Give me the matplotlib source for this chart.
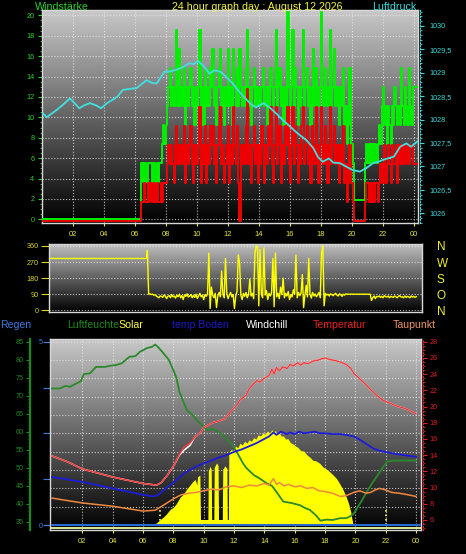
import numpy as np
import matplotlib
matplotlib.use("Agg")
import matplotlib.pyplot as plt
from matplotlib.colors import LinearSegmentedColormap
from matplotlib.ticker import MultipleLocator, FuncFormatter
from matplotlib.transforms import offset_copy

plt.rcParams['font.family'] = ['Liberation Sans', 'DejaVu Sans']

# ---------------- data ----------------
hour_ticks = [2, 4, 6, 8, 10, 12, 14, 16, 18, 20, 22, 24]
hour_labels = ['02', '04', '06', '08', '10', '12', '14', '16', '18', '20', '22', '00']

# wind in knots, 5 minute samples starting 06:24 (calm before)
wind_start = 6.4
KN = 1.852
gust_kn = [3, 2, 3, 3, 2, 3, 3,
           3, 2, 3, 3, 2, 3, 2, 3, 3, 4, 5, 4,
           5, 6, 7, 8, 6, 7, 6, 7, 10, 6, 9, 6,
           7, 6, 8, 5, 7, 6, 7, 8, 6, 7, 5, 7,
           6, 7, 10, 6, 7, 5, 8, 6, 7, 6, 8, 7,
           9, 6, 7, 5, 7, 8, 9, 6, 7, 5, 7, 6,
           9, 6, 7, 5, 9, 7, 6, 8, 6, 9, 7, 6,
           7, 6, 8, 10, 6, 7, 5, 7, 8, 6, 7, 6,
           7, 6, 7, 8, 6, 7, 5, 7, 6, 8, 7, 6,
           7, 10, 6, 7, 8, 6, 7, 5, 7, 6, 11, 7,
           6, 7, 10, 6, 8, 7, 5, 7, 6, 7, 10, 6,
           7, 8, 6, 7, 5, 7, 9, 6, 8, 7, 6, 7,
           11, 7, 6, 8, 7, 6, 7, 10, 6, 7, 9, 6,
           7, 6, 5, 7, 6, 8, 5, 6, 4, 5, 8, 4,
           4, 3, 1, 1, 1, 1, 1, 1, 1, 1, 3, 4,
           3, 4, 3, 4, 3, 4, 4, 3, 4, 5, 4, 6,
           7, 5, 6, 4, 6, 5, 4, 6, 5, 7, 6, 5,
           6, 5, 8, 6, 5, 7, 6, 5, 8, 6, 5, 7]
avg_kn = [1, 1, 2, 1, 1, 2, 1,
          2, 1, 1, 2, 1, 2, 1, 1, 2, 1, 2, 2,
          2, 3, 4, 3, 4, 3, 2, 4, 5, 3, 4, 3,
          4, 3, 5, 2, 4, 3, 4, 5, 3, 2, 4, 3,
          3, 4, 6, 2, 4, 3, 5, 2, 4, 3, 5, 4,
          5, 3, 4, 2, 4, 5, 6, 3, 4, 2, 3, 4,
          5, 2, 4, 3, 6, 4, 3, 5, 2, 0, 4, 3,
          4, 3, 5, 7, 3, 4, 2, 4, 5, 3, 4, 2,
          4, 3, 5, 4, 2, 4, 3, 5, 4, 6, 3, 2,
          4, 6, 3, 4, 5, 2, 4, 3, 5, 4, 6, 3,
          2, 4, 6, 3, 5, 4, 2, 4, 3, 5, 6, 3,
          4, 5, 3, 4, 2, 5, 4, 3, 6, 4, 2, 4,
          6, 4, 3, 5, 4, 2, 4, 6, 3, 4, 5, 3,
          4, 3, 2, 4, 3, 5, 2, 3, 1, 2, 4, 2,
          2, 1, 0, 0, 0, 0, 0, 0, 0, 0, 1, 2,
          2, 1, 2, 1, 2, 1, 2, 2, 1, 2, 3, 2,
          3, 4, 2, 3, 4, 3, 2, 4, 3, 3, 4, 2,
          4, 3, 4, 3, 4, 4, 3, 4, 3, 4, 4, 3]

pressure_h = [0.07, 0.3, 0.6, 0.93, 1.3, 1.8, 2.1, 2.4, 2.7, 3.1, 3.5, 3.8, 4.2, 4.6,
              4.9, 5.2, 5.6, 6.1, 6.4, 6.75, 7.1, 7.4, 7.9, 8.2, 8.65, 9.1, 9.5, 9.8,
              10.05, 10.4, 10.8, 11.1, 11.5, 11.9, 12.3, 12.7, 13.2, 13.5, 13.8, 14.3,
              14.7, 15.1, 15.5, 16.0, 16.5, 17.05, 17.5, 17.8, 18.1, 18.5, 18.8, 19.2,
              19.6, 20.05, 20.5, 20.9, 21.35, 21.7, 22.0, 22.4, 22.7, 23.1, 23.5, 23.8, 24.2]
pressure_hpa = [1028.13, 1028.05, 1028.12, 1028.2, 1028.3, 1028.45, 1028.35, 1028.24,
                1028.3, 1028.35, 1028.3, 1028.24, 1028.35, 1028.43, 1028.5, 1028.63,
                1028.65, 1028.67, 1028.75, 1028.84, 1028.78, 1028.77, 1029.02, 1029.02,
                1029.06, 1029.12, 1029.2, 1029.18, 1029.25, 1029.15, 1028.98, 1029.05,
                1029.02, 1028.9, 1028.77, 1028.6, 1028.42, 1028.32, 1028.26, 1028.35,
                1028.25, 1028.13, 1028.0, 1027.85, 1027.7, 1027.56, 1027.39, 1027.2,
                1027.1, 1027.17, 1027.08, 1027.07, 1027.0, 1026.92, 1026.89, 1026.96,
                1027.07, 1027.1, 1027.14, 1027.18, 1027.21, 1027.42, 1027.49, 1027.42,
                1027.53]

# wind direction, same 5 minute samples, constant before
dir_night = 290
dir_deg = [335, 90, 92, 88, 90, 85, 86, 80, 75, 70, 80, 78,
           72, 85, 80, 65, 78, 82, 70, 88, 75, 80, 68, 84,
           76, 90, 70, 82, 60, 86, 78, 92, 74, 80, 88, 70,
           84, 72, 90, 66, 80, 95, 75, 85, 60, 88, 78, 92,
           320, 10, 130, 85, 70, 95, 15, 80, 100, 75, 220, 88,
           70, 290, 95, 65, 85, 100, 75, 88, 10, 80, 105, 310,
           265, 85, 60, 95, 78, 100, 70, 88, 175, 80, 95, 65,
           320, 360, 355, 25, 340, 90, 70, 350, 85, 110, 60, 95,
           80, 100, 290, 20, 320, 75, 95, 65, 130, 88, 180, 70,
           95, 80, 105, 60, 88, 75, 115, 90, 310, 70, 100, 82,
           95, 200, 15, 85, 140, 75, 290, 90, 68, 100, 80, 92,
           75, 88, 100, 70, 320, 360, 25, 95, 85, 90, 80, 92,
           88, 82, 90, 95, 85, 80, 92, 88, 78, 90, 85, 92,
           90, 90, 90, 90, 90, 90, 90, 90, 90, 90, 90, 90,
           90, 90, 90, 90, 90, 90, 90, 55, 70, 80, 65, 78,
           75, 80, 72, 78, 70, 82, 76, 74, 80, 70, 78, 75,
           72, 80, 76, 70, 78, 82, 74, 76, 70, 80, 72, 78,
           75, 70, 80, 74, 78, 72, 76]

hum_h = [0, 0.5, 0.9, 1.2, 1.5, 1.9, 2.1, 2.5, 2.9, 3.5, 3.8, 4.2, 4.6, 5.1, 5.5, 5.8,
         6.25, 6.6, 6.8, 7.0, 7.35, 7.7, 8.0, 8.2, 8.4, 8.6, 8.9, 9.3, 9.75, 10.2, 10.6,
         11.1, 11.5, 11.9, 12.3, 12.6, 12.8, 13.3, 13.7, 14.15, 14.5, 14.8, 15.25, 15.8,
         16.35, 16.7, 17.0, 17.4, 17.7, 18.1, 18.5, 19.0, 19.4, 19.7, 19.9, 20.3, 20.7,
         21.0, 21.4, 21.8, 22.1, 22.5, 23.0, 23.5, 24.0]
hum = [72, 72, 72.7, 72.5, 73.2, 74, 76, 76.2, 78, 78, 78.3, 78.5, 79, 80.8, 81, 82.2,
       83.2, 83.6, 84.2, 83.5, 81.8, 80, 77.1, 75, 71.1, 69, 66, 64.5, 62.3, 60.5, 60.8,
       59.6, 58, 56.3, 53.5, 51.2, 50, 48, 47, 45.7, 45, 43.3, 40.6, 40.2,
       39.6, 38.8, 38.3, 36.8, 35.3, 35.6, 35.5, 36, 36, 36.6, 37.3, 40, 42.9,
       45, 47.5, 50, 51.7, 52, 52, 52, 52]

temp_h = [0, 1, 2, 3, 4, 5, 6, 6.9, 7.2, 7.6, 8.0, 8.4, 8.7, 9.1, 9.4, 9.8, 10.0, 10.6,
          11.0, 11.4, 11.7, 12.1, 12.4, 12.8, 13.0, 13.3, 13.5, 13.7, 14.0, 14.3, 14.5,
          14.65, 14.8, 15.0, 15.2, 15.5, 15.7, 15.9, 16.2, 16.4, 16.6, 16.9, 17.2, 17.5,
          17.8, 18.0, 18.3, 18.6, 19.0, 19.4, 19.7, 19.9, 20.3, 20.7, 21.0, 21.4, 21.8,
          22.3, 22.8, 23.2, 23.6, 24.0]
temp = [13.9, 13.2, 12.3, 11.8, 11.3, 10.9, 10.5, 10.3, 10.6, 11.5, 12.6, 14.1, 15.0,
        15.5, 16.2, 16.8, 17.4, 18.0, 18.2, 18.5, 19.2, 20.0, 20.8, 21.4, 22.2, 22.8,
        23.2, 23.0, 23.5, 23.8, 24.6, 24.0, 24.8, 24.4, 24.9, 24.7, 25.2, 25.0, 25.4,
        25.1, 25.4, 25.3, 25.6, 25.7, 25.9, 26.0, 25.8, 25.7, 25.5, 25.2, 24.7, 24.1,
        23.4, 22.7, 22.1, 21.4, 20.8, 20.4, 20.0, 19.8, 19.5, 19.1]
windchill = [13.9, 13.2, 12.3, 11.8, 11.3, 10.9, 10.5, 10.3, 10.6, 11.5, 12.6, 14.0, 14.6,
             15.2, 16.2, 16.8, 17.4, 18.0, 18.2, 18.5, 19.2, 20.0, 20.8, 21.4, 22.2, 22.8,
             23.2, 23.0, 23.5, 23.8, 24.6, 24.0, 24.8, 24.4, 24.9, 24.7, 25.2, 25.0, 25.4,
             25.1, 25.4, 25.3, 25.6, 25.7, 25.9, 26.0, 25.8, 25.7, 25.5, 25.2, 24.7, 24.1,
             23.4, 22.7, 22.1, 21.4, 20.8, 20.4, 20.0, 19.8, 19.5, 19.1]

boden_h = [0, 1, 2, 3, 4, 5, 6, 6.7, 7.0, 7.5, 8.0, 8.6, 9.1, 9.75, 10.3, 11.0, 11.5,
           12.0, 12.5, 13.0, 13.5, 14.0, 14.3, 14.6, 14.8, 15.1, 15.5, 15.7, 16.0, 16.3,
           16.6, 17.0, 17.3, 17.7, 18.0, 18.5, 19.0, 19.4, 19.9, 20.3, 20.8, 21.2, 21.7,
           22.5, 23.2, 24.0]
boden = [11.3, 11.0, 10.7, 10.3, 9.9, 9.5, 9.1, 8.9, 9.1, 9.9, 10.6, 11.6, 12.2, 12.8,
         13.2, 13.7, 14.0, 14.4, 14.7, 15.1, 15.5, 16.0, 16.3, 16.8, 16.5, 16.9, 16.6,
         16.8, 16.6, 16.9, 16.7, 16.8, 16.9, 16.7, 16.7, 16.6, 16.6, 16.5, 16.3, 15.9,
         15.3, 14.8, 14.5, 14.2, 14.0, 13.8]

dew_h = [0, 1, 2, 3, 4, 5, 6, 6.8, 7.5, 8.0, 8.5, 9.0, 9.5, 10.0, 10.5, 11.0, 11.5, 12.0,
         12.5, 13.0, 13.5, 14.0, 14.3, 14.6, 14.8, 15.0, 15.3, 15.6, 16.0, 16.4, 16.8,
         17.2, 17.6, 18.0, 18.5, 19.0, 19.4, 19.9, 20.3, 20.7, 21.0, 21.3, 21.6, 22.0,
         22.4, 22.9, 23.5, 24.0]
dew = [8.7, 8.4, 8.1, 7.9, 7.7, 7.4, 7.1, 7.2, 8.0, 8.6, 9.1, 9.3, 9.4, 9.6, 9.8, 9.7,
       10.1, 10.2, 10.0, 10.3, 10.2, 10.5, 10.3, 11.1, 10.4, 10.6, 10.2, 10.4, 10.1, 10.2,
       9.9, 10.0, 9.6, 9.5, 9.3, 8.9, 9.0, 9.4, 9.6, 9.3, 9.4, 9.7, 9.9, 9.7,
       9.4, 9.3, 9.1, 8.9]

solar_h = [6.55, 6.7, 6.9, 7.1, 7.3, 7.5, 7.8, 8.0, 8.2, 8.45, 8.65, 8.9, 9.1, 9.3, 9.45,
           9.55, 9.6, 9.75, 9.79, 10.28, 10.31, 10.42, 10.5, 10.53, 10.67, 10.7, 10.85,
           10.95, 10.98, 11.23, 11.26, 11.4, 11.53, 11.56, 11.63, 11.66, 11.8, 12.0, 12.1,
           12.25, 12.4, 12.55, 12.7, 12.85, 13.0, 13.15, 13.3, 13.45, 13.6, 13.75, 13.9,
           14.05, 14.2, 14.35, 14.5, 14.6, 14.7, 14.85, 15.0, 15.1, 15.25, 15.4, 15.55,
           15.7, 15.9, 16.05, 16.2, 16.4, 16.6, 16.8, 17.0, 17.2, 17.4, 17.65, 17.9, 18.1,
           18.3, 18.5, 18.75, 18.95, 19.2, 19.4, 19.55, 19.7, 19.77, 19.86]
solar = [0, 5, 12, 27, 40, 55, 85, 95, 115, 150, 165, 195, 215, 235, 245,
         215, 260, 268, 30, 30, 290, 316, 300, 30, 30, 310, 334,
         320, 30, 30, 300, 318, 305, 30, 30, 390, 405, 400, 425,
         415, 440, 430, 450, 440, 458, 450, 470, 462, 485, 478, 495,
         488, 505, 495, 512, 498, 508, 490, 495, 478, 480, 462, 465,
         445, 435, 425, 418, 400, 398, 378, 365, 348, 345, 332, 310, 300,
         287, 272, 251, 225, 188, 150, 117, 70, 36, 0]
solar_marks = [7.1, 22.05]

regen_h = [0, 24.3]
regen = [0, 0]

# ---------------- layout ----------------
W, H = 466, 554
fig = plt.figure(figsize=(W / 100, H / 100), dpi=100, facecolor='black')


def box(l, t, r, b):
    return [l / W, 1 - b / H, (r - l) / W, (b - t) / H]


def shade(ax, top='#c8c8c8'):
    cmap = LinearSegmentedColormap.from_list('bg', ['#000000', top])
    ax.imshow(np.linspace(0, 1, 256).reshape(-1, 1), extent=[0, 1, 0, 1], origin='lower',
              transform=ax.transAxes, aspect='auto', cmap=cmap, zorder=0)
    ax.set_facecolor('black')
    ax.set_axisbelow(True)
    for s in ax.spines.values():
        s.set_color('#d8d8d8')
        s.set_linewidth(1)


def hide_spines(ax, keep=None):
    for k, s in ax.spines.items():
        if k != keep:
            s.set_visible(False)


grid_kw = dict(color='#e8e8e8', linestyle=':', linewidth=0.8, alpha=0.8)
yellow = '#e8e840'

# ---------------- top: wind speed + pressure ----------------
ax1 = fig.add_axes(box(42, 10, 418, 222.7))
shade(ax1)
t_w = list(wind_start + np.arange(len(gust_kn)) / 12.0)
tt = [0] + t_w + [24.25]
g = np.array([0] + gust_kn + [gust_kn[-1]]) * KN
a = np.array([0] + avg_kn + [avg_kn[-1]]) * KN
ax1.step(tt, g, where='post', color='#00f000', lw=1.4, zorder=3)
ax1.step(tt, a, where='post', color='#f00000', lw=1.4, zorder=4,
         transform=offset_copy(ax1.transData, fig=fig, y=-1.5, units='dots'))
ax1.set_xlim(0, 24.25)
ax1.set_ylim(-0.33, 20.52)
ax1.set_xticks(hour_ticks)
ax1.set_xticklabels(hour_labels)
ax1.yaxis.set_major_locator(MultipleLocator(2))
ax1.yaxis.set_minor_locator(MultipleLocator(0.5))
ax1.grid(**grid_kw)
ax1.tick_params(axis='y', colors='#30d030', labelsize=5.2, length=3, pad=2.5)
ax1.tick_params(axis='y', which='minor', colors='#30d030', length=1.5)
ax1.tick_params(axis='x', colors=yellow, labelsize=5.4, length=2, pad=4)

ax1p = ax1.twinx()
ax1p.plot(pressure_h, pressure_hpa, color='#40e0e0', lw=1.3, zorder=5)
ax1p.set_ylim(1025.8, 1030.335)
ax1p.yaxis.set_major_locator(MultipleLocator(0.5))
ax1p.yaxis.set_minor_locator(MultipleLocator(0.1))
ax1p.yaxis.set_major_formatter(FuncFormatter(lambda v, p: f'{v:g}'.replace('.', ',')))
ax1p.tick_params(axis='y', colors='#40d8d8', labelsize=5.2, length=3, pad=4)
ax1p.tick_params(axis='y', which='minor', colors='#40d8d8', length=1.5)
hide_spines(ax1p, 'right')
ax1p.spines['right'].set_color('#40d8d8')
ax1p.spines['right'].set_linestyle(':')
ax1p.spines['right'].set_position(('outward', 1.2))

# ---------------- middle: wind direction ----------------
ax2 = fig.add_axes(box(49, 244, 421.7, 311.7))
shade(ax2, '#c0c0c0')
ax2.plot([0, wind_start - 0.05] + t_w, [dir_night, dir_night] + dir_deg,
         color='#ffff00', lw=1.0, zorder=3)
ax2.set_xlim(0, 24.25)
ax2.set_ylim(-8, 371)
ax2.set_xticks([])
ax2.set_yticks([0, 90, 180, 270, 360])
ax2.grid(axis='y', **grid_kw)
ax2.tick_params(axis='y', colors='#d8d820', labelsize=5.2, length=6, pad=1.5)

ax2r = ax2.twinx()
ax2r.set_ylim(-8, 371)
ax2r.set_yticks([0, 90, 180, 270, 360])
ax2r.set_yticklabels(['N', 'O', 'S', 'W', 'N'])
ax2r.tick_params(axis='y', colors='#f0f030', labelsize=8.5, length=0, pad=11)
hide_spines(ax2r)

# ---------------- header / legend texts ----------------
hdr = 1 - 6.5 / H
fig.text(35 / W, hdr, 'Windstärke', color='#30d030', fontsize=7.7, va='center')
fig.text(257 / W, hdr, '24 hour graph day : August 12 2026', color='#f0f040',
         fontsize=7.7, va='center', ha='center')
fig.text(372 / W, hdr, 'Luftdruck', color='#40d8d8', fontsize=7.7, va='center')

leg = 1 - 325.5 / H
for x, txt, col in [(0, 'Regen', '#3c7ce0'), (67, 'Luftfeuchte', '#1e8a1e'),
                    (118, 'Solar', '#ffff40'), (172, 'temp Boden', '#1818c8'),
                    (246, 'Windchill', '#ffffff'), (312.5, 'Temperatur', '#e82020'),
                    (392.5, 'Taupunkt', '#f09868')]:
    fig.text(x / W, leg, txt, color=col, fontsize=7.6, va='center')

# ---------------- bottom: rain / solar / humidity / temperatures ----------------
ax3 = fig.add_axes(box(50, 339, 420.7, 529.7))
shade(ax3)
ax3s = ax3.twinx()
ax3s.set_ylim(-25, 1000)
ax3s.axis('off')

ax3.fill_between(solar_h, solar, 0, color='#ffff00', lw=0, zorder=2,
                 transform=ax3s.transData)
ax3.vlines(solar_marks, 0, 80, colors='#ffff60', linestyles=':', lw=1.2, zorder=2,
           transform=ax3s.transData)
ax3.axhspan(-0.115, -0.045, color='#d4e490', lw=0, zorder=2.5)
ax3.plot(regen_h, regen, color='#2868d0', lw=1.5, zorder=3)

ax3.set_xlim(-0.13, 24.31)
ax3.set_ylim(-0.128, 5.074)
ax3.set_xticks(hour_ticks)
ax3.set_xticklabels(hour_labels)
ax3.set_yticks([0, 1.25, 2.5, 3.75, 5])
ax3.set_yticklabels(['0', '', '', '', '5'])
ax3.yaxis.set_minor_locator(MultipleLocator(0.5))
ax3.yaxis.remove_overlapping_locs = False
ax3.grid(axis='x', **grid_kw)
ax3.grid(axis='y', which='minor', **grid_kw)
ax3.tick_params(axis='y', colors='#3c7ce0', labelsize=5.2, length=5, pad=0.5)
ax3.tick_params(axis='y', which='minor', length=0)
ax3.tick_params(axis='x', colors=yellow, labelsize=5.4, length=2, pad=4)

ax3h = ax3.twinx()
ax3h.plot(hum_h, hum, color='#2a8a2a', lw=1.3, zorder=3)
ax3h.set_ylim(32.8, 85.75)
ax3h.yaxis.set_ticks_position('left')
ax3h.yaxis.set_major_locator(MultipleLocator(5))
ax3h.yaxis.set_minor_locator(MultipleLocator(1))
hide_spines(ax3h, 'left')
ax3h.spines['left'].set_visible(True)
ax3h.spines['left'].set_position(('outward', 14.4))
ax3h.spines['left'].set_color('#1e8a1e')
ax3h.spines['left'].set_linewidth(1.6)
ax3h.tick_params(axis='y', colors='#1e8a1e', labelsize=5.2, length=3, pad=1.5)
ax3h.tick_params(axis='y', which='minor', colors='#1e8a1e', length=1.2)

ax3t = ax3.twinx()
ax3t.plot(temp_h, windchill, color='#ffffff', lw=1.1, zorder=2)
ax3t.plot(dew_h, dew, color='#f08840', lw=1.1, zorder=3)
ax3t.plot(boden_h, boden, color='#1c1cd8', lw=1.3, zorder=3)
ax3t.plot(temp_h, temp, color='#f03c3c', lw=1.1, zorder=4)
ax3t.set_ylim(4.8, 28.33)
ax3t.yaxis.set_major_locator(MultipleLocator(2))
ax3t.yaxis.set_minor_locator(MultipleLocator(0.5))
hide_spines(ax3t, 'right')
ax3t.spines['right'].set_color('#e02020')
ax3t.spines['right'].set_linestyle(':')
ax3t.spines['right'].set_position(('outward', 1.4))
ax3t.tick_params(axis='y', colors='#e02020', labelsize=5.2, length=3, pad=2)
ax3t.tick_params(axis='y', which='minor', colors='#e02020', length=1.2)

fig.savefig('out.png', dpi=100, facecolor='black')
